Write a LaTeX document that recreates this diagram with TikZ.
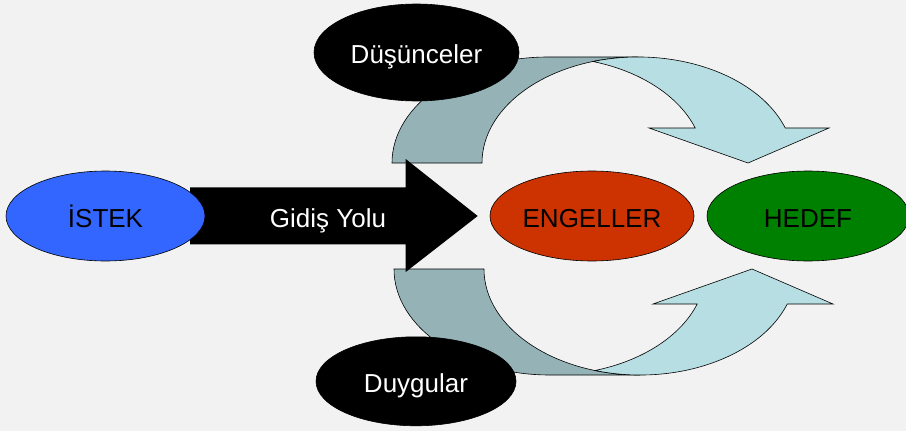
\documentclass[tikz,border=0pt]{standalone}
\usepackage{fontspec}
\setmainfont{Liberation Sans}
\usepackage{xcolor}
\usepackage{tikz}
\usetikzlibrary{shapes.geometric}
\definecolor{bgcol}{HTML}{F2F2F2}
\definecolor{istekblue}{HTML}{3366FF}
\definecolor{engelred}{HTML}{CC3300}
\definecolor{hedefgreen}{HTML}{008000}
\definecolor{banddark}{HTML}{95B3B6}
\definecolor{bandlight}{HTML}{B7DFE3}
\tikzset{
    tnode/.style = {inner sep=0pt, font=\fontsize{26bp}{30bp}\selectfont, text height=24.2bp, text depth=1.3bp},
    oval/.style = {tnode, ellipse, draw=black, line width=0.6pt},
    blue_node/.style = {oval, fill=istekblue, text=black},
    black_node/.style = {oval, fill=black, text=white},
    red_node/.style = {oval, fill=engelred, text=black},
    green_node/.style = {oval, fill=hedefgreen, text=black},
    dark_band/.style = {fill=banddark, draw=black, line width=0.6pt},
    light_band/.style = {fill=bandlight, draw=black, line width=0.6pt, line join=miter}
}
\begin{document}
\begin{tikzpicture}
            [x=1bp, y=1bp,
            band/.style={x radius=156bp, y radius=106bp}]

            \useasboundingbox (0,0) rectangle (906,431);
            \fill[bgcol] (0,0) rectangle (906,431);

            % upper curved arrow
            \draw[dark_band] (392,268) arc[band, start angle=180, end angle=90]
                -- (638,374) arc[band, start angle=90, end angle=180] -- cycle;
            \draw[light_band] (593,369.5) arc[band, start angle=106.77, end angle=19.28]
                -- (829,303) -- (748,268) -- (649,303)
                -- (695.2,303) arc[band, start angle=19.28, end angle=73.23] -- cycle;

            % lower curved arrow
            \draw[dark_band] (394,162) arc[band, start angle=180, end angle=270]
                -- (640,56) arc[band, start angle=270, end angle=180] -- cycle;
            \draw[light_band] (595,60.5) arc[band, start angle=253.23, end angle=340.72]
                -- (833,127) -- (752,162) -- (653,127)
                -- (697.2,127) arc[band, start angle=-19.28, end angle=-73.23] -- cycle;

            % big arrow
            \fill[black] (190,243.7) -- (405.7,243.7) -- (405.7,272) -- (477.7,215)
                -- (405.7,159) -- (405.7,186.7) -- (190,186.7) -- cycle;
            \node[tnode, text=white] (yol) at (328,215) {Gidiş Yolu};

            \node[blue_node, minimum width=199bp, minimum height=90bp] (istek) at (105.5,215) {İSTEK};
            \node[black_node, minimum width=205bp, minimum height=97bp] (dusunce) at (416.5,378.5) {Düşünceler};
            \node[black_node, minimum width=200bp, minimum height=89bp] (duygu) at (416,49.7) {Duygular};
            \node[red_node, minimum width=204bp, minimum height=90bp] (engel) at (592,215) {ENGELLER};
            \node[green_node, minimum width=202bp, minimum height=90bp] (hedef) at (808,215) {HEDEF};
        \end{tikzpicture}
\end{document}
